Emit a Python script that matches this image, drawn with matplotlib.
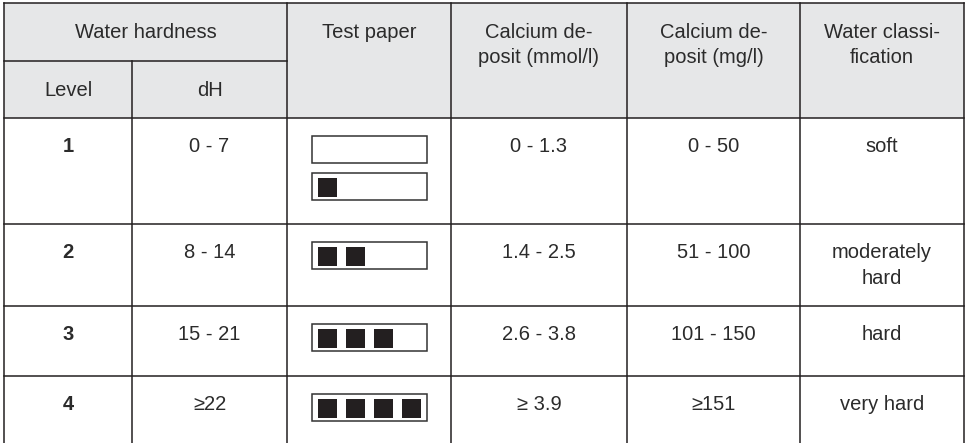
import matplotlib.pyplot as plt
from matplotlib.patches import Rectangle

# table content
levels = ['1', '2', '3', '4']
dh_ranges = ['0 - 7', '8 - 14', '15 - 21', '≥22']
paper_strips = [[0, 1], [2], [3], [4]]   # filled squares on each strip
mmol = ['0 - 1.3', '1.4 - 2.5', '2.6 - 3.8', '≥ 3.9']
mg = ['0 - 50', '51 - 100', '101 - 150', '≥151']
classes = ['soft', 'moderately\nhard', 'hard', 'very hard']
top_headers = ['Test paper', 'Calcium de-\nposit (mmol/l)',
               'Calcium de-\nposit (mg/l)', 'Water classi-\nfication']

# layout (pixels)
W, H = 966, 443
col_x = [4, 132, 287, 451, 627, 800, 964]
hdr_y = [3, 61, 118]
row_y = [118, 224, 306, 376, 443]
line_c = '#231f20'
text_c = '#2b2b2b'
hdr_bg = '#e6e7e8'
lw = 1.1
fs = 14.5
base_off = 34.5   # text baseline below cell top
line_gap = 25

plt.rcParams['font.family'] = ['Liberation Sans', 'DejaVu Sans']

fig = plt.figure(figsize=(W / 100, H / 100), dpi=100)
ax = fig.add_axes([0, 0, 1, 1])
ax.set_xlim(0, W)
ax.set_ylim(H, 0)
ax.axis('off')


def cell_text(x0, x1, y_top, s, bold=False):
    for i, ln in enumerate(s.split('\n')):
        ax.text((x0 + x1) / 2, y_top + base_off + i * line_gap, ln,
                ha='center', va='baseline', fontsize=fs, color=text_c,
                fontweight='bold' if bold else 'normal')


# header background
ax.add_patch(Rectangle((col_x[0], hdr_y[0]), col_x[-1] - col_x[0],
                       hdr_y[2] - hdr_y[0], facecolor=hdr_bg, edgecolor='none'))

# grid lines
ax.plot([col_x[0], col_x[-1]], [hdr_y[0], hdr_y[0]], color=line_c, lw=lw)
ax.plot([col_x[0], col_x[2]], [hdr_y[1], hdr_y[1]], color=line_c, lw=lw)
for y in row_y[:-1]:
    ax.plot([col_x[0], col_x[-1]], [y, y], color=line_c, lw=lw)
for i, x in enumerate(col_x):
    y0 = hdr_y[1] if i == 1 else hdr_y[0]
    ax.plot([x, x], [y0, H], color=line_c, lw=lw)

# header texts
cell_text(col_x[0], col_x[2], hdr_y[0], 'Water hardness')
cell_text(col_x[0], col_x[1], hdr_y[1], 'Level')
cell_text(col_x[1], col_x[2], hdr_y[1], 'dH')
for j, s in enumerate(top_headers):
    cell_text(col_x[j + 2], col_x[j + 3], hdr_y[0], s)

# body
box_x, box_w, box_h, box_gap = 312, 115, 27, 10
sq, pitch = 19, 28
for r in range(len(levels)):
    top = row_y[r]
    cell_text(col_x[0], col_x[1], top, levels[r], bold=True)
    cell_text(col_x[1], col_x[2], top, dh_ranges[r])
    cell_text(col_x[3], col_x[4], top, mmol[r])
    cell_text(col_x[4], col_x[5], top, mg[r])
    cell_text(col_x[5], col_x[6], top, classes[r])
    for k, n in enumerate(paper_strips[r]):
        by = top + 18 + k * (box_h + box_gap)
        ax.add_patch(Rectangle((box_x, by), box_w, box_h, facecolor='white',
                               edgecolor='#333333', lw=1.1))
        for q in range(n):
            ax.add_patch(Rectangle((box_x + 6 + q * pitch, by + 4.5), sq, sq,
                                   facecolor=line_c, edgecolor='none'))

fig.savefig('out.png', dpi=100)
